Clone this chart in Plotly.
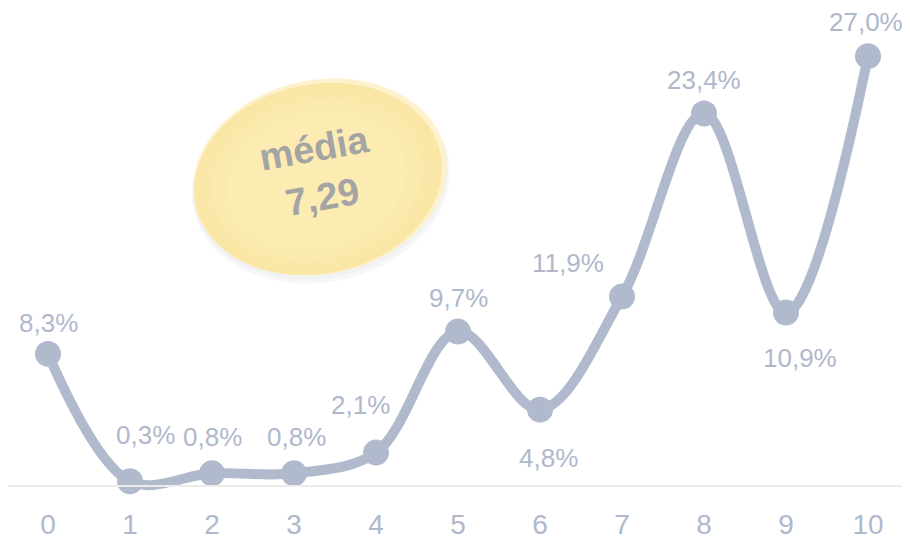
import numpy as np
import plotly.graph_objects as go

# ---- data ----
categories = [0, 1, 2, 3, 4, 5, 6, 7, 8, 9, 10]
values = [8.3, 0.3, 0.8, 0.8, 2.1, 9.7, 4.8, 11.9, 23.4, 10.9, 27.0]
labels = ["8,3%", "0,3%", "0,8%", "0,8%", "2,1%", "9,7%", "4,8%", "11,9%", "23,4%", "10,9%", "27,0%"]
tick_labels = ["0", "1", "2", "3", "4", "5", "6", "7", "8", "9", "10"]
mean_title = "média"
mean_value = "7,29"

# ---- style / layout ----
OFF = 8                      # page body margin
W, H = 902, 535
ML, MR, MT, MB = 0, 0, 2, 38
PXU = 82.0                   # pixels per category
X0_PX = 48 - OFF             # figure-pixel of category 0
YMIN, YMAX = -1.19, 29.9
LINE_COL = "#b1bacd"
TEXT_COL = "#b0b8cc"
FONT = "Liberation Sans Narrow, Arial Narrow, Liberation Sans, Arial"
# label offsets in pixels (dx, dy up-positive)
label_offsets = [(0, 31), (15, 46), (0, 36), (2, 36), (-16, 48), (0, 34),
                 (8, -48), (-54, 34), (0, 33), (14, -45), (-2, 34)]

plot_w = W - ML - MR
plot_h = H - MT - MB
x_lo = -(X0_PX - ML) / PXU
x_hi = x_lo + plot_w / PXU


def px_to_paper(X, Y):
    """screen pixel -> paper coordinates"""
    X -= OFF
    Y -= OFF
    return (X - ML) / plot_w, (H - MB - Y) / plot_h


def ellipse_path(cx, cy, a, b, phi_deg, n=120):
    phi = np.radians(phi_deg)
    t = np.linspace(0, 2 * np.pi, n, endpoint=False)
    X = cx + a * np.cos(t) * np.cos(phi) + b * np.sin(t) * np.sin(phi)
    Y = cy - a * np.cos(t) * np.sin(phi) + b * np.sin(t) * np.cos(phi)
    pts = [px_to_paper(x, y) for x, y in zip(X, Y)]
    return "M " + " L ".join(f"{p[0]:.5f},{p[1]:.5f}" for p in pts) + " Z"


fig = go.Figure()
fig.add_trace(go.Scatter(
    x=categories, y=values, mode="lines+markers",
    line=dict(color=LINE_COL, width=10, shape="spline", smoothing=1.0),
    marker=dict(color=LINE_COL, size=26),
    cliponaxis=False, hoverinfo="skip",
))

annotations = []
for xi, yi, lab, (dx, dy) in zip(categories, values, labels, label_offsets):
    annotations.append(dict(
        x=xi, y=yi, xref="x", yref="y", text=lab, showarrow=False,
        xshift=dx, yshift=dy, font=dict(family=FONT, size=26, color=TEXT_COL),
        xanchor="center", yanchor="middle",
    ))

# mean bubble (screen-pixel geometry)
shapes = []
cx, cy, a, b, phi = 320, 177, 128, 97, 12
shapes.append(dict(type="path", xref="paper", yref="paper",
                   path=ellipse_path(cx + 1, cy + 6, a + 2, b + 2, phi),
                   fillcolor="rgba(0,0,0,0.03)", line=dict(width=0), layer="above"))
shapes.append(dict(type="path", xref="paper", yref="paper",
                   path=ellipse_path(cx, cy + 3, a + 1, b + 1, phi),
                   fillcolor="rgba(0,0,0,0.025)", line=dict(width=0), layer="above"))
shapes.append(dict(type="path", xref="paper", yref="paper",
                   path=ellipse_path(cx, cy, a, b, phi),
                   fillcolor="#fdf2cb", line=dict(width=0), layer="above"))
grad = [("#fae6a5", -2, 2, 3), ("#fbe8a9", -3, 2, 10), ("#fbeaad", -3, 3, 22),
        ("#fcecb2", -3, 4, 38)]
for col, ddx, ddy, shrink in grad:
    shapes.append(dict(type="path", xref="paper", yref="paper",
                       path=ellipse_path(cx + ddx, cy + ddy, a - shrink, b - shrink * 0.8, phi),
                       fillcolor=col, line=dict(width=0), layer="above"))

mx, my = px_to_paper(318, 172)
annotations.append(dict(
    x=mx, y=my, xref="paper", yref="paper",
    text=f"<b>{mean_title}</b><br><b>{mean_value}</b>", showarrow=False,
    textangle=-10, font=dict(family="Liberation Sans, Arial", size=38, color="#a4a4a4"),
    xanchor="center", yanchor="middle",
))

# baseline axis drawn above the line
shapes.append(dict(type="line", xref="paper", yref="y", x0=0, x1=1, y0=0, y1=0,
                   line=dict(color="#ececec", width=2), layer="above"))

fig.update_layout(
    width=W, height=H, margin=dict(l=ML, r=MR, t=MT, b=MB),
    paper_bgcolor="white", plot_bgcolor="white", showlegend=False,
    shapes=shapes, annotations=annotations,
    xaxis=dict(range=[x_lo, x_hi], tickmode="array", tickvals=categories, ticktext=tick_labels,
               showgrid=False, zeroline=False, showline=False, ticks="",
               tickfont=dict(family=FONT, size=28, color=TEXT_COL), fixedrange=True),
    yaxis=dict(range=[YMIN, YMAX], visible=False, showgrid=False, zeroline=False, fixedrange=True),
)

fig.write_html("out.html")
